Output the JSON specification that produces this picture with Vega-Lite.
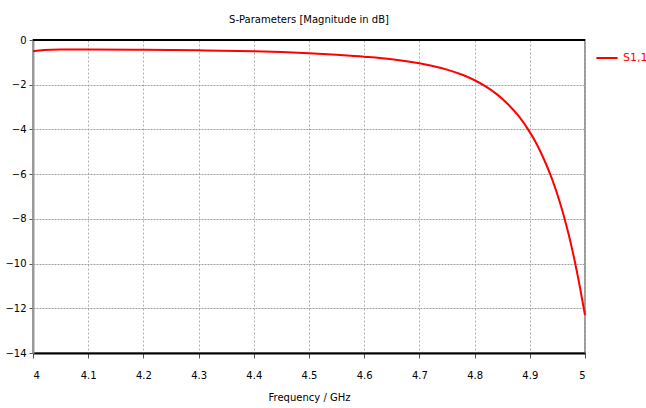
{
  "$schema": "https://vega.github.io/schema/vega-lite/v6.json",
  "width": 552,
  "height": 313,
  "autosize": "none",
  "padding": {"left": 33, "top": 40, "right": 61, "bottom": 55},
  "background": "white",
  "config": {
    "font": "DejaVu Sans, sans-serif",
    "view": {"stroke": "#9a9a9a", "strokeWidth": 2}
  },
  "title": {
    "text": "S-Parameters [Magnitude in dB]",
    "fontSize": 10,
    "fontWeight": "normal",
    "color": "#000",
    "anchor": "middle",
    "offset": 10
  },
  "data": {
    "values": [
      {"freq": 4.00, "db": -0.50, "series": "S1,1"},
      {"freq": 4.02, "db": -0.45, "series": "S1,1"},
      {"freq": 4.05, "db": -0.425, "series": "S1,1"},
      {"freq": 4.10, "db": -0.42, "series": "S1,1"},
      {"freq": 4.20, "db": -0.435, "series": "S1,1"},
      {"freq": 4.30, "db": -0.46, "series": "S1,1"},
      {"freq": 4.40, "db": -0.50, "series": "S1,1"},
      {"freq": 4.45, "db": -0.535, "series": "S1,1"},
      {"freq": 4.50, "db": -0.59, "series": "S1,1"},
      {"freq": 4.55, "db": -0.665, "series": "S1,1"},
      {"freq": 4.60, "db": -0.75, "series": "S1,1"},
      {"freq": 4.65, "db": -0.86, "series": "S1,1"},
      {"freq": 4.70, "db": -1.04, "series": "S1,1"},
      {"freq": 4.72, "db": -1.137, "series": "S1,1"},
      {"freq": 4.75, "db": -1.324, "series": "S1,1"},
      {"freq": 4.78, "db": -1.578, "series": "S1,1"},
      {"freq": 4.80, "db": -1.80, "series": "S1,1"},
      {"freq": 4.82, "db": -2.076, "series": "S1,1"},
      {"freq": 4.84, "db": -2.42, "series": "S1,1"},
      {"freq": 4.86, "db": -2.86, "series": "S1,1"},
      {"freq": 4.88, "db": -3.41, "series": "S1,1"},
      {"freq": 4.90, "db": -4.12, "series": "S1,1"},
      {"freq": 4.91, "db": -4.54, "series": "S1,1"},
      {"freq": 4.92, "db": -5.03, "series": "S1,1"},
      {"freq": 4.93, "db": -5.58, "series": "S1,1"},
      {"freq": 4.94, "db": -6.20, "series": "S1,1"},
      {"freq": 4.95, "db": -6.91, "series": "S1,1"},
      {"freq": 4.96, "db": -7.73, "series": "S1,1"},
      {"freq": 4.97, "db": -8.66, "series": "S1,1"},
      {"freq": 4.98, "db": -9.73, "series": "S1,1"},
      {"freq": 4.99, "db": -10.95, "series": "S1,1"},
      {"freq": 5.00, "db": -12.30, "series": "S1,1"}
    ]
  },
  "layer": [
    {
      "mark": {"type": "line", "strokeWidth": 2, "interpolate": "monotone"},
      "encoding": {
        "x": {
          "field": "freq",
          "type": "quantitative",
          "scale": {"domain": [4, 5], "nice": false, "zero": false},
          "axis": {
            "title": "Frequency / GHz",
            "titleFontSize": 10,
            "titleFontWeight": "normal",
            "titleColor": "#000",
            "titlePadding": 12,
            "values": [4, 4.1, 4.2, 4.3, 4.4, 4.5, 4.6, 4.7, 4.8, 4.9, 5],
            "format": "~g",
            "labelFontSize": 10,
            "labelColor": "#000",
            "labelPadding": 12,
            "domainColor": "#000",
            "domainWidth": 2,
            "tickColor": "#555",
            "tickSize": 5,
            "grid": true,
            "gridColor": "#b0b0b0",
            "gridDash": [2, 2],
            "gridWidth": 1
          }
        },
        "y": {
          "field": "db",
          "type": "quantitative",
          "scale": {"domain": [-14, 0], "nice": false},
          "axis": {
            "title": null,
            "values": [0, -2, -4, -6, -8, -10, -12, -14],
            "labelFontSize": 10,
            "labelColor": "#000",
            "labelPadding": 3,
            "domainColor": "#9a9a9a",
            "domainWidth": 2,
            "tickColor": "#555",
            "tickSize": 4,
            "grid": true,
            "gridColor": "#a0a0a0",
            "gridDash": [2, 1],
            "gridWidth": 1
          }
        },
        "color": {
          "field": "series",
          "type": "nominal",
          "scale": {"range": ["#ff0000"]},
          "legend": {
            "title": null,
            "orient": "none",
            "legendX": 562,
            "legendY": 6,
            "symbolType": "stroke",
            "symbolSize": 450,
            "symbolStrokeWidth": 2,
            "labelColor": "#ff0000",
            "labelFontSize": 11
          }
        }
      }
    },
    {
      "mark": {"type": "rule", "color": "#000", "strokeWidth": 2},
      "encoding": {"y": {"datum": 0}}
    }
  ]
}
